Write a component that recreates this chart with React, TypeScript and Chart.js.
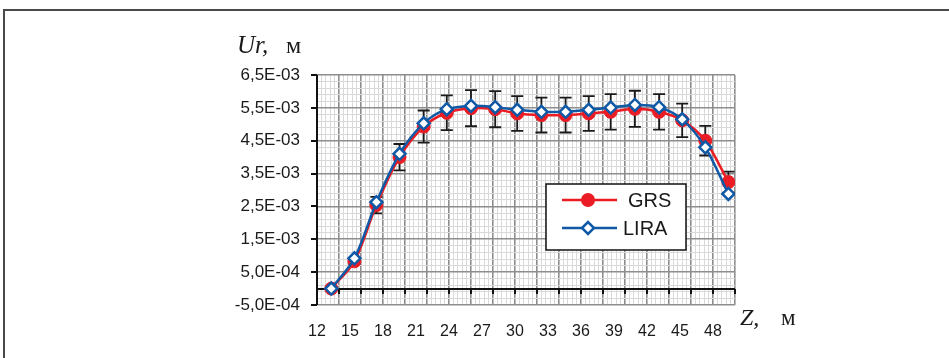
import React, { useEffect, useRef } from 'react';
import { Chart, registerables } from 'chart.js';

Chart.register(...registerables);

// Z, m (node positions along the profile)
const zValues = [13.3, 15.4, 17.4, 19.5, 21.7, 23.8, 26.0, 28.2, 30.2, 32.4, 34.6, 36.7, 38.7, 40.9, 43.1, 45.2, 47.3, 49.4];
// Ur, m
const grsValues = [0.0e-3, 0.83e-3, 2.54e-3, 4.0e-3, 4.93e-3, 5.35e-3, 5.49e-3, 5.46e-3, 5.33e-3, 5.28e-3, 5.28e-3, 5.33e-3, 5.38e-3, 5.47e-3, 5.38e-3, 5.12e-3, 4.5e-3, 3.24e-3];
const liraValues = [0.0e-3, 0.92e-3, 2.63e-3, 4.1e-3, 5.03e-3, 5.46e-3, 5.56e-3, 5.52e-3, 5.44e-3, 5.38e-3, 5.38e-3, 5.44e-3, 5.51e-3, 5.59e-3, 5.52e-3, 5.15e-3, 4.3e-3, 2.88e-3];
// error bars (±) on GRS
const grsErrors = [0.0e-3, 0.08e-3, 0.25e-3, 0.4e-3, 0.49e-3, 0.53e-3, 0.55e-3, 0.55e-3, 0.53e-3, 0.53e-3, 0.53e-3, 0.53e-3, 0.54e-3, 0.55e-3, 0.54e-3, 0.51e-3, 0.45e-3, 0.32e-3];

const xTickLabels = ['12', '15', '18', '21', '24', '27', '30', '33', '36', '39', '42', '45', '48'];
const yTickLabels = ['-5,0E-04', '5,0E-04', '1,5E-03', '2,5E-03', '3,5E-03', '4,5E-03', '5,5E-03', '6,5E-03'];

const seriesNames = ['GRS', 'LIRA'];
const yTitle = 'Ur,';
const xTitle = 'Z,';
const unitText = 'м';

const RED = '#ec1c24';
const BLUE = '#0f59a6';
const MAJOR = '#8e8e8e';
const MINOR = '#d9d9d9';

const decorPlugin = {
  id: 'decor',
  beforeDatasetsDraw(chart: any) {
    const { ctx, chartArea, scales } = chart;
    const x = scales.x;
    const y = scales.y;
    ctx.save();
    // axis lines
    ctx.strokeStyle = '#111';
    ctx.lineWidth = 2;
    const y0 = Math.round(y.getPixelForValue(0));
    ctx.beginPath();
    ctx.moveTo(chartArea.left, y0);
    ctx.lineTo(chartArea.right, y0);
    ctx.moveTo(chartArea.left, chartArea.top);
    ctx.lineTo(chartArea.left, chartArea.bottom);
    ctx.stroke();
    ctx.beginPath();
    x.ticks.forEach((t: any, i: number) => {
      if (i % 10 === 0) {
        const px = Math.round(x.getPixelForTick(i));
        ctx.moveTo(px, y0);
        ctx.lineTo(px, y0 + 5);
      }
    });
    y.ticks.forEach((t: any, i: number) => {
      if (i % 5 === 0) {
        const py = Math.round(y.getPixelForTick(i));
        ctx.moveTo(chartArea.left - 6, py);
        ctx.lineTo(chartArea.left, py);
      }
    });
    ctx.stroke();
    // error bars
    ctx.strokeStyle = '#1a1a1a';
    ctx.lineWidth = 1.8;
    ctx.beginPath();
    zValues.forEach((z, i) => {
      const px = x.getPixelForValue(z);
      const top = y.getPixelForValue(grsValues[i] + grsErrors[i]);
      const bot = y.getPixelForValue(grsValues[i] - grsErrors[i]);
      ctx.moveTo(px, top);
      ctx.lineTo(px, bot);
      ctx.moveTo(px - 6, top);
      ctx.lineTo(px + 6, top);
      ctx.moveTo(px - 6, bot);
      ctx.lineTo(px + 6, bot);
    });
    ctx.stroke();
    ctx.restore();
  },
  afterDraw(chart: any) {
    const { ctx, chartArea } = chart;
    ctx.save();
    // legend box
    const lx = chartArea.left + 229;
    const ly = chartArea.top + 109;
    const lw = 140;
    const lh = 66;
    ctx.fillStyle = '#fff';
    ctx.fillRect(lx, ly, lw, lh);
    ctx.strokeStyle = '#111';
    ctx.lineWidth = 1.5;
    ctx.strokeRect(lx, ly, lw, lh);
    const rows = [ly + 16, ly + 44];
    // GRS
    ctx.strokeStyle = RED;
    ctx.lineWidth = 2.5;
    ctx.beginPath();
    ctx.moveTo(lx + 16, rows[0]);
    ctx.lineTo(lx + 71, rows[0]);
    ctx.stroke();
    ctx.fillStyle = RED;
    ctx.beginPath();
    ctx.arc(lx + 42, rows[0], 7, 0, Math.PI * 2);
    ctx.fill();
    // LIRA
    ctx.strokeStyle = BLUE;
    ctx.beginPath();
    ctx.moveTo(lx + 16, rows[1]);
    ctx.lineTo(lx + 71, rows[1]);
    ctx.stroke();
    ctx.fillStyle = '#fff';
    ctx.lineWidth = 2.5;
    ctx.beginPath();
    const cx = lx + 42;
    const cy = rows[1];
    ctx.moveTo(cx - 6, cy);
    ctx.lineTo(cx, cy - 6);
    ctx.lineTo(cx + 6, cy);
    ctx.lineTo(cx, cy + 6);
    ctx.closePath();
    ctx.fill();
    ctx.stroke();
    ctx.fillStyle = '#1a1a1a';
    ctx.font = '20px "Liberation Sans", Arial, sans-serif';
    ctx.textBaseline = 'middle';
    ctx.textAlign = 'left';
    ctx.fillText(seriesNames[0], lx + 82, rows[0] + 1);
    ctx.fillText(seriesNames[1], lx + 77, rows[1] + 1);
    // axis titles
    ctx.textBaseline = 'alphabetic';
    ctx.fillStyle = '#1a1a1a';
    ctx.font = 'italic 25px "Liberation Serif", "Times New Roman", serif';
    ctx.fillText(yTitle, 237, 53);
    ctx.font = '24px "Liberation Serif", "Times New Roman", serif';
    ctx.fillText(unitText, 286, 53);
    ctx.font = 'italic 24px "Liberation Serif", "Times New Roman", serif';
    ctx.fillText(xTitle, 740, 325);
    ctx.font = '23px "Liberation Serif", "Times New Roman", serif';
    ctx.fillText(unitText, 781, 325);
    ctx.restore();
  },
};

export default function App() {
  const ref = useRef<HTMLCanvasElement | null>(null);
  useEffect(() => {
    const canvas = ref.current;
    if (!canvas) return;
    const chart = new Chart(canvas, {
      type: 'line',
      data: {
        datasets: [
          {
            label: seriesNames[0],
            data: zValues.map((z, i) => ({ x: z, y: grsValues[i] })),
            borderColor: RED,
            backgroundColor: RED,
            borderWidth: 2.5,
            pointStyle: 'circle',
            pointRadius: 6.5,
            pointBorderWidth: 1,
            pointBackgroundColor: RED,
            pointBorderColor: RED,
            tension: 0.3,
            order: 2,
          },
          {
            label: seriesNames[1],
            data: zValues.map((z, i) => ({ x: z, y: liraValues[i] })),
            borderColor: BLUE,
            backgroundColor: '#fff',
            borderWidth: 2.5,
            pointStyle: 'rectRot',
            pointRadius: 6,
            pointBorderWidth: 2.5,
            pointBackgroundColor: '#fff',
            pointBorderColor: BLUE,
            tension: 0.3,
            order: 1,
          },
        ],
      },
      options: {
        animation: false,
        responsive: false,
        devicePixelRatio: 1,
        events: [],
        layout: { padding: { top: 75, right: 214, bottom: 0, left: 0 } },
        plugins: { legend: { display: false }, tooltip: { enabled: false }, title: { display: false } },
        scales: {
          x: {
            type: 'linear',
            min: 12,
            max: 50,
            afterFit: (s: any) => {
              s.height = 53;
            },
            border: { display: false },
            grid: {
              drawTicks: false,
              color: (c: any) => (c.index % 10 === 0 ? MAJOR : c.index % 2 === 0 ? MINOR : 'rgba(0,0,0,0)'),
              lineWidth: (c: any) => (c.index % 10 === 0 ? 1.6 : 1),
            },
            ticks: {
              stepSize: 0.2,
              autoSkip: false,
              maxRotation: 0,
              minRotation: 0,
              padding: 17,
              color: '#1a1a1a',
              font: { family: '"Liberation Sans Narrow", "Liberation Sans", Arial, sans-serif', size: 16 },
              callback: (v: any, i: number) => (i % 15 === 0 && i / 15 < xTickLabels.length ? xTickLabels[i / 15] : ''),
            },
          },
          y: {
            type: 'linear',
            min: -5e-4,
            max: 6.5e-3,
            afterFit: (s: any) => {
              s.width = 317;
            },
            border: { display: false },
            grid: {
              drawTicks: false,
              color: (c: any) => (c.index % 5 === 0 ? MAJOR : MINOR),
              lineWidth: (c: any) => (c.index % 5 === 0 ? 1.6 : 1),
            },
            ticks: {
              stepSize: 2e-4,
              autoSkip: false,
              padding: 17,
              color: '#1a1a1a',
              font: { family: '"Liberation Sans", Arial, sans-serif', size: 17 },
              callback: (v: any, i: number) => (i % 5 === 0 ? yTickLabels[i / 5] : ''),
            },
          },
        },
      },
      plugins: [decorPlugin],
    } as any);
    return () => chart.destroy();
  }, []);

  return (
    <div style={{ position: 'absolute', left: 0, top: 0, width: 949, height: 358, overflow: 'hidden', background: '#fff' }}>
      <div
        style={{
          position: 'absolute',
          left: 3,
          top: 9,
          width: 946,
          height: 349,
          boxSizing: 'border-box',
          borderTop: '2px solid #4a4a4a',
          borderLeft: '2px solid #4a4a4a',
        }}
      />
      <canvas ref={ref} width={949} height={358} style={{ position: 'absolute', left: 0, top: 0, width: 949, height: 358 }} />
    </div>
  );
}
